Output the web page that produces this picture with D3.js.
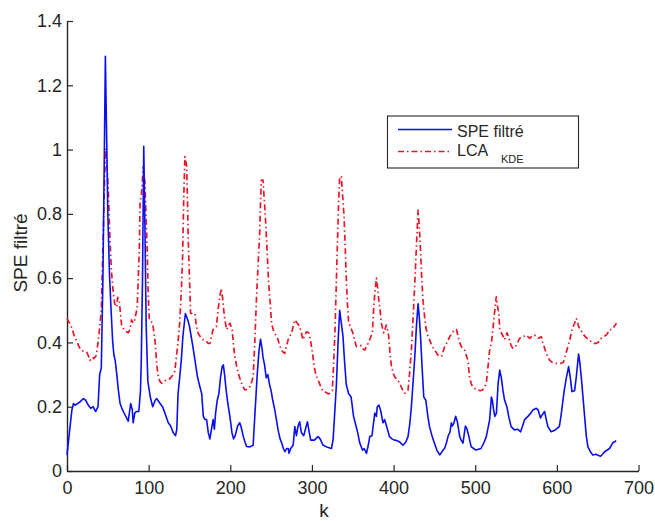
<!DOCTYPE html>
<html>
<head>
<meta charset="utf-8">
<script src="https://cdn.jsdelivr.net/npm/d3@7"></script>
<style>
  html, body { margin: 0; padding: 0; background: #fff; }
  svg { display: block; }
  text { font-family: "Liberation Sans", Arial, Helvetica, sans-serif; fill: #262626; }
</style>
</head>
<body>
<svg id="chart" width="655" height="521"></svg>
<script>
// ---- data ----
const xTicks = [0, 100, 200, 300, 400, 500, 600, 700];
const yTicks = [0, 0.2, 0.4, 0.6, 0.8, 1, 1.2, 1.4];
const yTickLabels = ["0", "0.2", "0.4", "0.6", "0.8", "1", "1.2", "1.4"];
const seriesNames = ["SPE filtré", "LCA", "KDE"];

const speFiltre = [[0,0.05],[3,0.12],[6,0.19],[8,0.21],[10,0.205],[13,0.21],[16,0.215],[20,0.225],[23,0.22],[26,0.205],[29,0.195],[32,0.2],[35,0.185],[38,0.2],[40,0.3],[42,0.32],[44,0.6],[46,1.05],[47,1.29],[48.5,1.05],[50,0.8],[52,0.615],[54,0.5],[56,0.4],[57.5,0.36],[59,0.345],[61,0.3],[63,0.25],[65,0.21],[68,0.19],[71,0.175],[75,0.155],[78,0.21],[80,0.19],[81,0.15],[83,0.18],[85,0.185],[88,0.185],[90,0.25],[91,0.345],[92.5,0.6],[94,1.01],[95.5,0.75],[97,0.45],[99,0.28],[102,0.23],[105,0.2],[108,0.22],[110,0.225],[114,0.21],[117,0.2],[120,0.18],[124,0.15],[127,0.14],[130,0.12],[133,0.11],[134.5,0.13],[136,0.24],[138,0.29],[140,0.345],[142,0.42],[145,0.49],[148,0.47],[150,0.45],[152,0.42],[154,0.39],[157,0.34],[160,0.29],[163,0.26],[165,0.24],[167,0.17],[169,0.16],[171,0.16],[173,0.12],[175,0.1],[177,0.13],[179,0.16],[180.5,0.13],[182,0.18],[184,0.22],[186,0.24],[188,0.29],[190,0.325],[191.5,0.33],[193,0.3],[195,0.25],[197,0.21],[199.5,0.17],[202,0.12],[204,0.1],[206,0.11],[209,0.14],[211.5,0.15],[213,0.14],[216,0.107],[218,0.09],[220,0.076],[224,0.075],[228,0.08],[230,0.17],[233,0.3],[235,0.37],[237,0.41],[239,0.38],[240,0.355],[242,0.33],[244,0.29],[246,0.3],[248,0.27],[250,0.25],[252,0.22],[254.5,0.19],[256.5,0.16],[258.5,0.128],[261,0.1],[263,0.087],[265,0.07],[267,0.06],[269,0.07],[271,0.07],[272,0.055],[274,0.07],[277,0.08],[279,0.138],[281,0.11],[283,0.14],[285,0.153],[287,0.12],[290,0.11],[292,0.13],[294.5,0.153],[296,0.13],[298.5,0.096],[303,0.096],[307.5,0.107],[310,0.1],[313.7,0.08],[318,0.075],[324,0.07],[326,0.1],[330,0.27],[332,0.4],[334,0.5],[336,0.46],[338,0.42],[340,0.34],[342,0.27],[345,0.24],[348,0.23],[351,0.17],[353,0.15],[356,0.12],[358.6,0.087],[362,0.065],[364,0.07],[366.8,0.055],[369,0.08],[370.8,0.107],[373.6,0.11],[375,0.14],[377,0.18],[379,0.17],[380,0.2],[382,0.205],[384,0.19],[387,0.15],[389,0.16],[391,0.143],[395,0.107],[398,0.1],[401,0.096],[404,0.095],[407.5,0.09],[411.6,0.08],[415,0.09],[417.7,0.107],[420,0.15],[421.8,0.2],[424,0.28],[426,0.355],[428,0.45],[430,0.52],[431.5,0.48],[433,0.42],[435,0.32],[437,0.23],[439.5,0.22],[442,0.17],[444,0.138],[447,0.11],[450,0.087],[453,0.065],[456.5,0.05],[458,0.055],[460.5,0.065],[462.5,0.07],[464.7,0.087],[467,0.11],[469,0.12],[470.8,0.15],[472,0.14],[474,0.15],[476,0.17],[478,0.155],[479,0.14],[481,0.107],[483,0.095],[485,0.087],[488,0.14],[490,0.13],[492,0.11],[495,0.076],[498,0.07],[501,0.065],[507,0.07],[511,0.09],[513.6,0.107],[517.7,0.16],[519.8,0.23],[521,0.22],[522.6,0.19],[524,0.17],[526,0.18],[528,0.27],[530,0.314],[532,0.29],[534,0.25],[536,0.22],[538.8,0.2],[541,0.17],[544,0.138],[548,0.128],[552,0.13],[555.6,0.122],[558,0.14],[560.5,0.16],[564.6,0.17],[568,0.18],[570.7,0.19],[574.8,0.195],[577,0.19],[580,0.165],[582,0.175],[585,0.185],[587,0.16],[589,0.138],[593,0.122],[596,0.125],[599,0.13],[603,0.138],[605,0.17],[607,0.21],[609,0.25],[611.6,0.29],[614.4,0.325],[616.5,0.29],[618.5,0.247],[621.7,0.25],[623.7,0.29],[626.6,0.364],[628,0.34],[630,0.29],[632,0.23],[634,0.17],[636,0.11],[638,0.076],[641,0.06],[644,0.05],[648,0.052],[651,0.048],[653.5,0.046],[656,0.052],[658.5,0.06],[664.5,0.07],[668.6,0.088],[672.7,0.094]];

const lcaKDE = [[0,0.475],[3,0.46],[5.7,0.446],[9,0.42],[11.8,0.405],[15,0.385],[18,0.375],[21,0.372],[24,0.37],[26,0.36],[28,0.344],[31,0.354],[33,0.35],[36,0.36],[38,0.4],[40,0.446],[42,0.5],[44,0.7],[46,0.9],[47.3,1.004],[49,0.95],[50.6,0.874],[52.6,0.72],[54.5,0.62],[56.7,0.553],[58.5,0.52],[60.8,0.51],[62,0.54],[64,0.53],[65.5,0.49],[67,0.45],[70,0.44],[73,0.433],[75,0.43],[77,0.44],[79,0.47],[81,0.46],[83,0.47],[86,0.51],[88.5,0.68],[89.5,0.84],[91,0.853],[93.4,0.947],[95.4,0.9],[97,0.78],[98.3,0.68],[99.5,0.55],[100.8,0.47],[103,0.465],[104.9,0.46],[107.7,0.408],[110,0.33],[111.8,0.293],[114,0.278],[115.9,0.273],[119,0.28],[122,0.283],[125,0.285],[128,0.293],[130,0.3],[132,0.31],[134,0.356],[136,0.4],[138,0.46],[140,0.56],[141.6,0.667],[143,0.85],[144.4,0.978],[146.5,0.95],[147.5,0.85],[148.5,0.72],[150,0.6],[151.4,0.49],[154,0.49],[156.6,0.49],[158.5,0.45],[160.7,0.428],[164,0.415],[166.8,0.408],[170,0.405],[173,0.397],[175,0.397],[177,0.42],[179,0.44],[183,0.45],[185,0.5],[187,0.54],[189,0.568],[190.5,0.54],[192,0.5],[193.5,0.47],[195.4,0.44],[197.5,0.45],[199.5,0.46],[202.3,0.44],[204,0.39],[205.6,0.356],[207.5,0.33],[209.7,0.304],[211.5,0.29],[213.8,0.273],[216,0.26],[217.8,0.252],[221,0.255],[224,0.262],[226,0.275],[228,0.293],[230,0.4],[232,0.532],[234,0.64],[236,0.74],[237,0.83],[238,0.905],[240,0.905],[241.5,0.85],[243,0.79],[245,0.69],[247,0.584],[249,0.52],[250.5,0.46],[252.5,0.44],[254.6,0.428],[256.5,0.42],[258.6,0.408],[260.5,0.39],[262.7,0.376],[264.5,0.37],[266.8,0.366],[268.5,0.385],[270.8,0.408],[273,0.42],[275,0.428],[277,0.45],[279,0.47],[280.5,0.465],[282,0.46],[285,0.45],[287,0.43],[289,0.408],[291,0.42],[293.4,0.433],[296,0.43],[298,0.41],[299.5,0.387],[301.5,0.35],[303.5,0.314],[305.5,0.295],[307.6,0.283],[310.5,0.265],[313.7,0.247],[317,0.245],[320,0.24],[322,0.242],[325,0.25],[326.5,0.33],[328,0.418],[329.5,0.55],[331,0.687],[332.5,0.82],[334,0.916],[336,0.916],[337.5,0.86],[339.4,0.79],[341,0.68],[342.3,0.584],[343.5,0.52],[345,0.46],[347,0.45],[350,0.43],[352,0.41],[354.5,0.387],[357,0.39],[360.6,0.39],[362.5,0.38],[364.7,0.376],[366.5,0.385],[368.8,0.397],[371,0.41],[374,0.43],[375.5,0.5],[377,0.553],[379,0.6],[380.5,0.57],[382,0.53],[383.5,0.5],[385,0.46],[388,0.43],[389.5,0.44],[391,0.454],[392.5,0.44],[394,0.42],[395.5,0.37],[397.4,0.325],[399.5,0.305],[401.4,0.293],[404.5,0.285],[407.5,0.273],[410.5,0.255],[413.7,0.242],[415.5,0.245],[417.7,0.252],[419.5,0.3],[421.8,0.376],[424,0.48],[426,0.584],[428,0.7],[430,0.812],[431.5,0.76],[433,0.687],[434.5,0.6],[436,0.532],[438,0.48],[440,0.44],[442,0.42],[444,0.408],[447,0.39],[450,0.376],[452,0.37],[454.4,0.36],[458.6,0.356],[460.5,0.37],[462.6,0.387],[465.5,0.4],[468.8,0.418],[470.5,0.425],[472.8,0.433],[475,0.44],[477,0.44],[479,0.42],[481,0.4],[483,0.387],[485,0.38],[487,0.376],[489,0.36],[491,0.345],[493,0.293],[495,0.272],[497,0.262],[500,0.256],[503,0.252],[506,0.25],[509,0.252],[511.5,0.26],[513.6,0.273],[515.5,0.32],[517.7,0.376],[520,0.4],[522,0.45],[524,0.5],[525.8,0.542],[527.5,0.51],[529,0.49],[530,0.44],[532,0.43],[534,0.42],[536,0.408],[539,0.43],[542,0.408],[544,0.39],[546,0.382],[548,0.385],[550,0.39],[552,0.4],[554.4,0.413],[556.5,0.415],[558.5,0.418],[560.5,0.42],[562.6,0.423],[564.5,0.418],[566.7,0.413],[569,0.418],[570.8,0.42],[572.8,0.423],[575,0.418],[577,0.413],[579,0.415],[581,0.418],[582.5,0.4],[584,0.39],[586.5,0.37],[589,0.356],[591,0.345],[593,0.34],[596,0.336],[599,0.335],[602,0.335],[605,0.335],[608,0.338],[610.5,0.36],[613.5,0.387],[616,0.41],[618.5,0.44],[621,0.455],[623.8,0.475],[625,0.465],[626.6,0.45],[628.5,0.44],[630.6,0.433],[632.5,0.425],[634.7,0.418],[637,0.413],[640,0.408],[643,0.4],[646,0.397],[648,0.397],[650.5,0.4],[652.5,0.405],[654.4,0.413],[657,0.418],[660.5,0.423],[662.5,0.43],[664.6,0.44],[667.4,0.44],[669.5,0.447],[671.5,0.454],[673,0.46]];

// ---- layout ----
const svg = d3.select("#chart");
const L = 67, R = 638.5, T = 21, B = 471;
const axisColor = "#262626";
const blue = "#0a0ff0";
const red = "#e8182b";

const x = d3.scaleLinear().domain([0, 700]).range([L, R]);
const y = d3.scaleLinear().domain([0, 1.4]).range([B, T]);

// axes (ticks inward, box off)
const xAxis = d3.axisBottom(x).tickValues(xTicks).tickSizeInner(-6).tickSizeOuter(0).tickPadding(10).tickFormat(d3.format("d"));
const gx = svg.append("g").attr("transform", `translate(0,${B})`).call(xAxis);
gx.select(".domain").attr("stroke", axisColor).attr("stroke-width", 1.4);
gx.selectAll(".tick line").attr("stroke", axisColor).attr("stroke-width", 1.2);
gx.selectAll("text").attr("fill", "#333").style("font-size", "18px").style("font-family", "'Liberation Sans', Arial, sans-serif");

const yAxis = d3.axisLeft(y).tickValues(yTicks).tickSizeInner(-6).tickSizeOuter(0).tickPadding(5)
  .tickFormat((d, i) => yTickLabels[i]);
const gy = svg.append("g").attr("transform", `translate(${L},0)`).call(yAxis);
gy.select(".domain").attr("stroke", axisColor).attr("stroke-width", 1.4);
gy.selectAll(".tick line").attr("stroke", axisColor).attr("stroke-width", 1.2);
gy.selectAll("text").attr("fill", "#333").style("font-size", "18px").style("font-family", "'Liberation Sans', Arial, sans-serif");

// lines
const line = d3.line().x(d => x(d[0])).y(d => y(d[1]));
svg.append("path").datum(lcaKDE)
  .attr("fill", "none").attr("stroke", red).attr("stroke-width", 1.7)
  .attr("stroke-dasharray", "6,3,1.5,3").attr("stroke-linejoin", "round")
  .attr("d", line);
svg.append("path").datum(speFiltre)
  .attr("fill", "none").attr("stroke", blue).attr("stroke-width", 1.6)
  .attr("stroke-linejoin", "round")
  .attr("d", line);

// axis labels
svg.append("text").attr("x", 324).attr("y", 517).attr("text-anchor", "middle")
  .style("font-size", "19px").text("k");
svg.append("text").attr("transform", "translate(27,253) rotate(-90)").attr("text-anchor", "middle")
  .style("font-size", "19px").text(seriesNames[0]);

// legend
const lg = svg.append("g");
lg.append("rect").attr("x", 387.5).attr("y", 116).attr("width", 191).attr("height", 52)
  .attr("fill", "#fff").attr("stroke", axisColor).attr("stroke-width", 1.1);
lg.append("line").attr("x1", 398).attr("x2", 452).attr("y1", 129.5).attr("y2", 129.5)
  .attr("stroke", blue).attr("stroke-width", 1.6);
lg.append("line").attr("x1", 398).attr("x2", 452).attr("y1", 151.5).attr("y2", 151.5)
  .attr("stroke", red).attr("stroke-width", 1.7).attr("stroke-dasharray", "6,3,1.5,3");
lg.append("text").attr("x", 457).attr("y", 136.5).style("font-size", "16px").text(seriesNames[0]);
lg.append("text").attr("x", 457).attr("y", 155.5).style("font-size", "16px").text(seriesNames[1]);
lg.append("text").attr("x", 501).attr("y", 163).style("font-size", "11px").text(seriesNames[2]);
</script>
</body>
</html>
